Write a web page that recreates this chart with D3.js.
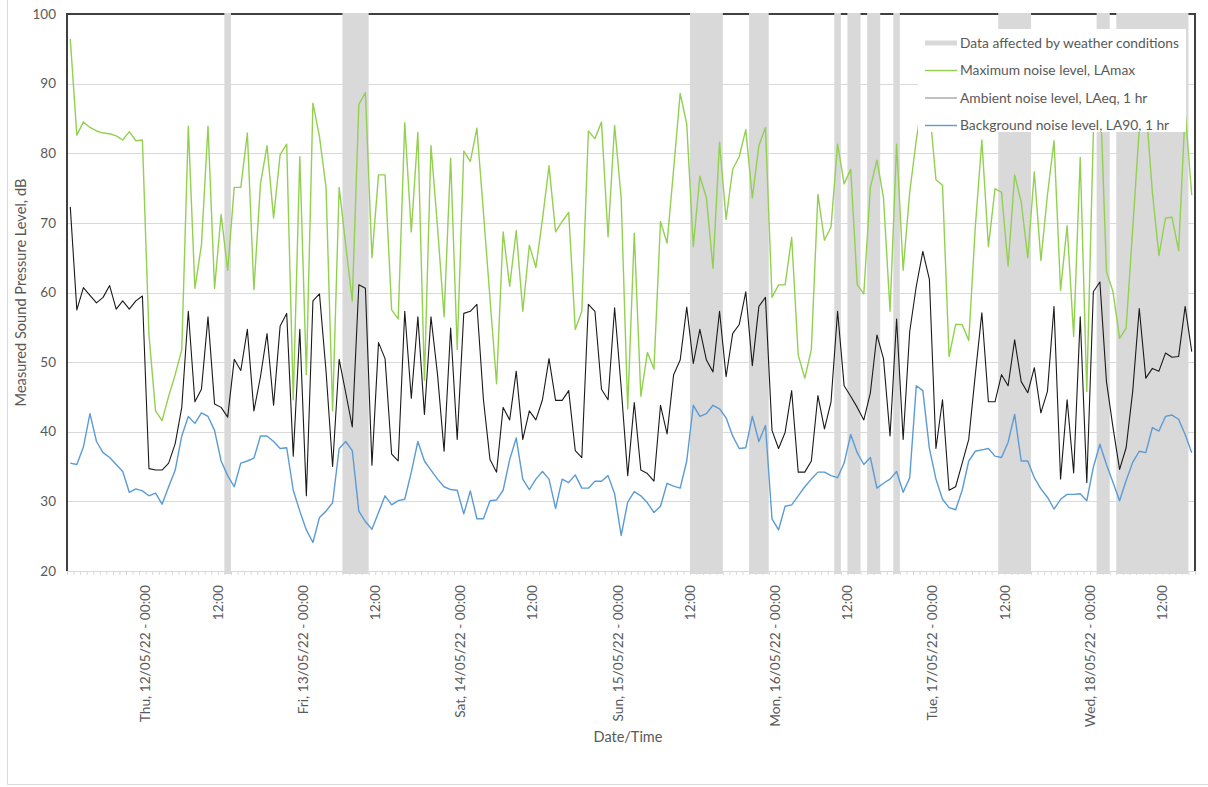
<!DOCTYPE html>
<html>
<head>
<meta charset="utf-8">
<script src="https://cdn.jsdelivr.net/npm/d3@7"></script>
<style>
  body { margin: 0; background: #fff; }
  text { font-family: Lato, "Open Sans", sans-serif; fill: #595959; }
</style>
</head>
<body>
<div id="chart"></div>
<script>
// Hourly noise readings, Wed 11/05/22 12:00 to Wed 18/05/22
const LAmax = [96.4,82.6,84.5,83.7,83.2,82.9,82.8,82.5,81.9,83.1,81.8,81.9,53.9,43.0,41.6,45.1,48.2,51.8,83.9,60.6,
  66.8,83.9,60.6,71.2,63.2,75.1,75.1,82.9,60.4,75.6,81.1,70.7,79.8,81.3,44.6,79.5,48.2,87.2,82.4,75.1,
  43.0,75.1,66.8,58.8,87.0,88.7,65.0,76.9,76.9,57.5,56.2,84.4,68.7,83.0,47.4,81.1,69.4,56.5,79.3,51.8,
  80.3,78.8,83.6,71.5,59.1,46.9,68.7,60.9,68.9,57.3,66.8,63.6,70.5,78.2,68.7,70.2,71.5,54.7,57.3,83.2,
  82.1,84.5,68.0,84.0,73.6,43.3,68.5,45.1,51.4,49.0,70.2,67.1,77.7,88.6,84.2,66.6,76.7,73.6,63.5,81.6,
  70.5,77.7,79.5,83.4,73.6,81.1,83.7,59.3,61.1,61.1,67.9,51.0,47.7,51.8,74.1,67.5,69.4,81.3,75.6,77.7,
  61.1,59.8,75.1,79.0,73.6,57.3,81.3,63.2,74.4,81.9,88.0,86.7,76.2,75.4,50.8,55.4,55.4,53.1,69.4,81.9,
  66.6,74.9,74.4,63.8,76.9,73.0,65.0,77.3,64.6,74.0,81.8,60.3,69.6,53.7,79.4,45.8,83.0,90.0,63.0,60.1,
  53.4,54.9,69.1,83.5,87.0,74.4,65.3,70.7,70.8,66.0,86.0,74.0];

const LAeq = [72.3,57.5,60.7,59.6,58.5,59.3,61.0,57.6,58.8,57.6,58.8,59.5,34.7,34.5,34.5,35.5,38.3,43.5,57.3,44.3,
  46.1,56.5,44.0,43.5,42.1,50.4,48.8,54.7,43.0,47.9,54.1,43.8,55.2,57.0,36.5,54.7,30.8,58.8,59.8,48.7,
  35.0,50.4,45.6,40.7,61.1,60.6,35.2,52.8,50.5,36.8,35.8,57.3,44.8,56.5,42.5,56.5,48.2,37.2,54.9,38.9,
  57.0,57.3,58.3,44.6,36.0,34.2,43.5,41.7,48.7,38.9,43.0,41.7,44.6,50.5,44.5,44.5,45.9,37.3,36.3,58.3,
  57.3,46.1,44.6,57.8,46.4,33.7,44.2,34.5,34.0,32.9,43.8,39.7,48.2,50.3,57.9,49.8,54.7,50.3,48.6,57.3,
  47.9,54.1,55.4,60.1,49.5,58.0,59.3,40.2,37.6,39.9,45.9,34.2,34.2,35.8,45.2,40.4,44.3,57.3,46.6,45.1,
  43.5,41.7,45.6,53.9,50.5,39.4,56.2,38.9,54.4,60.9,65.9,61.9,37.6,44.6,31.6,32.1,35.5,38.9,48.2,57.1,
  44.3,44.3,48.2,46.6,53.2,47.2,45.6,49.2,42.7,45.8,58.0,33.2,44.6,34.1,56.5,32.7,60.1,61.5,47.2,40.6,
  34.6,37.7,45.8,57.7,47.7,49.1,48.7,51.3,50.7,50.8,58.0,51.5];

const LA90 = [35.5,35.3,37.8,42.6,38.6,37.0,36.3,35.3,34.3,31.3,31.8,31.5,30.8,31.2,29.6,32.1,34.5,39.4,42.2,41.2,
  42.7,42.2,40.2,35.8,33.7,32.1,35.5,35.8,36.2,39.4,39.4,38.6,37.6,37.7,31.6,28.6,25.9,24.1,27.7,28.6,
  29.8,37.6,38.6,37.3,28.6,27.1,26.0,28.4,30.8,29.5,30.1,30.3,34.2,38.6,35.8,34.5,33.2,32.1,31.7,31.6,
  28.2,31.5,27.5,27.5,30.1,30.2,31.6,36.0,39.1,33.2,31.7,33.2,34.3,33.2,29.0,33.2,32.7,33.8,31.9,31.9,
  32.9,32.9,33.7,31.1,25.1,29.9,31.4,30.8,29.8,28.4,29.3,32.6,32.2,31.9,35.8,43.8,42.2,42.6,43.8,43.3,
  42.0,39.4,37.6,37.7,42.2,38.6,40.9,27.5,25.9,29.3,29.5,30.8,32.1,33.2,34.2,34.2,33.7,33.4,35.5,39.6,
  37.0,35.3,36.3,31.9,32.6,33.2,34.3,31.3,33.4,46.6,45.9,37.6,33.2,30.3,29.1,28.8,31.6,35.8,37.2,37.4,
  37.6,36.5,36.3,38.5,42.5,35.8,35.8,33.4,31.8,30.6,28.9,30.3,31.0,31.0,31.1,30.1,34.9,38.2,35.3,32.7,
  30.1,33.0,35.6,37.2,37.0,40.6,40.1,42.2,42.4,41.8,39.6,37.0];

// hours (category index) affected by weather: [start, end)
const weatherSpans = [[24,25],[42,46],[95,100],[104,107],[117,118],[119,121],[122,124],[126,127],
  [142,147],[157,159],[160,171]];

// x tick positions (category boundary) and labels
const tickPos = [12, 23, 36, 47, 60, 71, 84, 95, 108, 119, 132, 143, 156, 167];
const tickNames = ["Thu, 12/05/22 - 00:00", "12:00", "Fri, 13/05/22 - 00:00", "12:00",
  "Sat, 14/05/22 - 00:00", "12:00", "Sun, 15/05/22 - 00:00", "12:00",
  "Mon, 16/05/22 - 00:00", "12:00", "Tue, 17/05/22 - 00:00", "12:00",
  "Wed, 18/05/22 - 00:00", "12:00"];

const yTicks = [20, 30, 40, 50, 60, 70, 80, 90, 100];

const seriesNames = ["Maximum noise level, LAmax", "Ambient noise level, LAeq, 1 hr",
  "Background noise level, LA90, 1 hr"];
const seriesColors = ["#92d050", "#1a1a1a", "#5b9bd5"];

const width = 1208;
const height = 787;
const margin = {left: 67, right: 13, top: 14, bottom: 215};

const svg = d3.select("#chart")
  .append("svg")
  .attr("width", width)
  .attr("height", height);

// faint outer border of the chart area
svg.append("path")
  .attr("d", `M7.5,0 V784.5 H${width}`)
  .attr("fill", "none")
  .attr("stroke", "#d9d9d9");

const n = LAmax.length;

const x = d3.scaleLinear()
  .domain([0, n])
  .range([margin.left, width - margin.right]);

const y = d3.scaleLinear()
  .domain([20, 100])
  .range([height - margin.bottom - 1, margin.top]);

// gridlines
svg.append("g")
  .selectAll("line")
  .data(yTicks.filter(d => d > 20 && d < 100))
  .join("line")
    .attr("x1", x(0))
    .attr("x2", x(n))
    .attr("y1", d => Math.round(y(d)) + 0.5)
    .attr("y2", d => Math.round(y(d)) + 0.5)
    .attr("stroke", "#d9d9d9");

// plot frame (left, top, right)
svg.append("path")
  .attr("d", `M${x(0)},${y(20)} V${y(100)} H${x(n)} V${y(20)}`)
  .attr("fill", "none")
  .attr("stroke", "#404040")
  .attr("stroke-width", 2);

// bottom axis with hourly minor ticks
const xAxis = svg.append("g")
  .attr("transform", `translate(0,${y(20)})`)
  .call(d3.axisBottom(x).tickValues(d3.range(0, n + 1)).tickSize(4).tickFormat(""));
xAxis.select(".domain").attr("stroke", "#d9d9d9");
xAxis.selectAll(".tick line").attr("stroke", "#d9d9d9");

// weather bars
svg.append("g")
  .selectAll("rect")
  .data(weatherSpans)
  .join("rect")
    .attr("x", d => x(d[0]))
    .attr("width", d => x(d[1]) - x(d[0]))
    .attr("y", y(100) - 1)
    .attr("height", y(20) - y(100) + 4)
    .attr("fill", "#d9d9d9");

// y axis labels
svg.append("g")
  .selectAll("text")
  .data(yTicks)
  .join("text")
    .attr("x", 56)
    .attr("y", d => y(d))
    .attr("dy", "0.35em")
    .attr("text-anchor", "end")
    .attr("font-size", 13.5)
    .text(d => d);

// x tick labels, rotated
svg.append("g")
  .selectAll("text")
  .data(tickPos)
  .join("text")
    .attr("transform", (d, i) => `translate(${x(d)},${y(20) + 14}) rotate(-90)`)
    .attr("dy", "0.35em")
    .attr("text-anchor", "end")
    .attr("font-size", 13.7)
    .text((d, i) => tickNames[i]);

// axis titles
svg.append("text")
  .attr("transform", `translate(21,${(y(20) + y(100)) / 2}) rotate(-90)`)
  .attr("text-anchor", "middle")
  .attr("dy", "0.35em")
  .attr("font-size", 14.6)
  .text("Measured Sound Pressure Level, dB");

svg.append("text")
  .attr("x", 628)
  .attr("y", 737)
  .attr("dy", "0.35em")
  .attr("text-anchor", "middle")
  .attr("font-size", 14.5)
  .text("Date/Time");

// lines
const line = d3.line()
  .x((d, i) => x(i + 0.5))
  .y(d => y(d));

[LAmax, LAeq, LA90].forEach((s, k) => {
  svg.append("path")
    .datum(s)
    .attr("fill", "none")
    .attr("stroke", seriesColors[k])
    .attr("stroke-width", k == 1 ? 1.1 : 1.4)
    .attr("stroke-linejoin", "round")
    .attr("d", line);
});

// legend
const legend = svg.append("g");
legend.append("rect")
  .attr("x", 918)
  .attr("y", 29)
  .attr("width", 268)
  .attr("height", 103)
  .attr("fill", "#fff");

const legendY = [43, 70.5, 98, 125.5];
legend.append("rect")
  .attr("x", 925)
  .attr("y", legendY[0] - 2.5)
  .attr("width", 32)
  .attr("height", 5)
  .attr("fill", "#d9d9d9");
legend.append("text")
  .attr("x", 960)
  .attr("y", legendY[0])
  .attr("dy", "0.35em")
  .attr("font-size", 13.8)
  .text("Data affected by weather conditions");

seriesNames.forEach((name, k) => {
  legend.append("line")
    .attr("x1", 925)
    .attr("x2", 957)
    .attr("y1", legendY[k + 1])
    .attr("y2", legendY[k + 1])
    .attr("stroke", k == 1 ? "#a6a6a6" : seriesColors[k])
    .attr("stroke-width", 1.4);
  legend.append("text")
    .attr("x", 960)
    .attr("y", legendY[k + 1])
    .attr("dy", "0.35em")
    .attr("font-size", 13.8)
    .text(name);
});
</script>
</body>
</html>
